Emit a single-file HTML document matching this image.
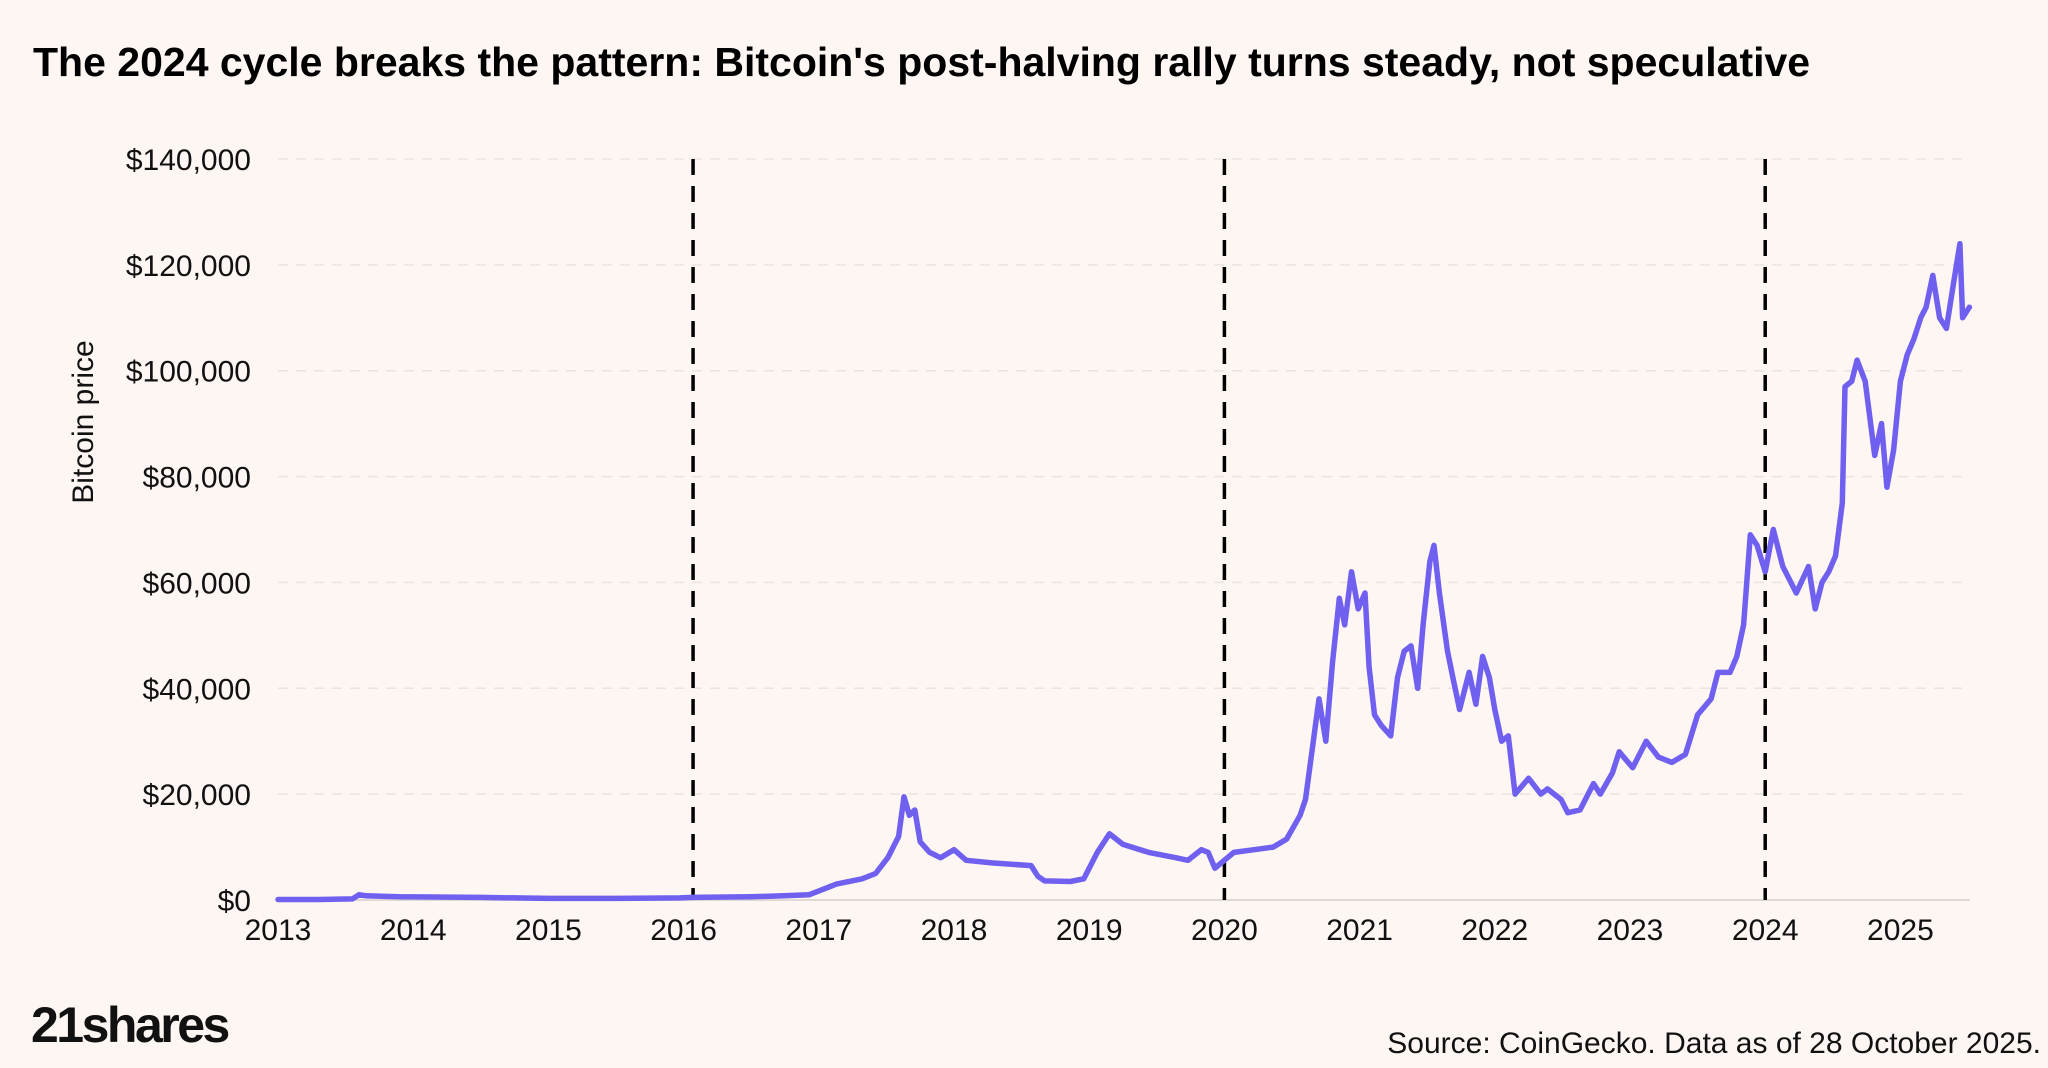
<!DOCTYPE html>
<html><head><meta charset="utf-8"><style>
html,body{margin:0;padding:0;background:#fdf6f3;}
svg{display:block;font-family:"Liberation Sans",sans-serif;}
</style></head><body>
<svg id="chart" width="2048" height="1068" viewBox="0 0 2048 1068">
<rect width="2048" height="1068" fill="#fdf6f3"/>
<text x="33" y="76" font-size="41" font-weight="bold" fill="#000">The 2024 cycle breaks the pattern: Bitcoin's post-halving rally turns steady, not speculative</text>
<text transform="translate(93,422) rotate(-90)" text-anchor="middle" font-size="30" fill="#111">Bitcoin price</text>
<g id="grid"></g><g id="yticks"></g><g id="xticks"></g><g id="halvings"></g><g id="series"></g>
<text x="31" y="1042" font-size="50" font-weight="bold" fill="#111" letter-spacing="-2.5">21shares</text>
<text x="2041" y="1053" text-anchor="end" font-size="30" fill="#111">Source: CoinGecko. Data as of 28 October 2025.</text>
</svg>
<script>
const yTicks=[0,20000,40000,60000,80000,100000,120000,140000];
const xTickYears=[2013,2014,2015,2016,2017,2018,2019,2020,2021,2022,2023,2024,2025];
const halvingYears=[2016.07,2020.0,2024.0];
const dates=[0,0.3,0.55,0.6,0.65,0.9,1.5,2.0,2.5,2.97,3.07,3.5,3.74,3.93,4.13,4.32,4.42,4.51,4.59,4.63,4.67,4.71,4.75,4.82,4.90,5.00,5.09,5.29,5.57,5.62,5.67,5.86,5.96,6.06,6.15,6.25,6.44,6.64,6.73,6.83,6.88,6.93,7.00,7.07,7.22,7.36,7.46,7.56,7.60,7.70,7.75,7.80,7.85,7.89,7.94,7.99,8.04,8.07,8.11,8.16,8.23,8.28,8.33,8.38,8.43,8.47,8.52,8.55,8.59,8.65,8.69,8.74,8.81,8.86,8.91,8.96,9.00,9.05,9.10,9.15,9.25,9.34,9.39,9.49,9.54,9.63,9.73,9.78,9.87,9.92,10.02,10.12,10.21,10.31,10.41,10.50,10.60,10.65,10.74,10.79,10.84,10.89,10.94,11.00,11.06,11.13,11.23,11.32,11.37,11.42,11.47,11.52,11.57,11.59,11.64,11.68,11.74,11.81,11.86,11.90,11.95,12.00,12.05,12.10,12.15,12.19,12.24,12.29,12.34,12.39,12.44,12.46,12.51];
const pricesK=[0.1,0.1,0.2,1.0,0.8,0.6,0.5,0.3,0.3,0.4,0.5,0.6,0.8,1.0,3.0,4.0,5,8,12,19.5,16,17,11,9,8,9.5,7.5,7,6.5,4.5,3.6,3.5,4,9,12.5,10.5,9,8,7.5,9.5,9,6,7.5,9,9.5,10,11.5,16,19,38,30,45,57,52,62,55,58,44,35,33,31,42,47,48,40,52,64,67,58,47,42,36,43,37,46,42,36,30,31,20,23,20,21,19,16.5,17,22,20,24,28,25,30,27,26,27.5,35,38,43,43,46,52,69,67,62,70,63,58,63,55,60,62,65,75,97,98,102,98,84,90,78,85,98,103,106,110,112,118,110,108,116,124,110,112];
const NS='http://www.w3.org/2000/svg';
const X0=278,PX=135.2,Y0=900,YMAX=159,LEFT=278,RIGHT=1970;
const xs=yr=>X0+(yr-2013)*PX;
const ys=v=>Y0-(v/140000)*(Y0-YMAX);
function mk(tag,attrs,parent){const e=document.createElementNS(NS,tag);for(const k in attrs)e.setAttribute(k,attrs[k]);document.getElementById(parent).appendChild(e);return e;}
yTicks.forEach(v=>{
 const l=mk('line',{x1:LEFT,x2:RIGHT,y1:ys(v),y2:ys(v),stroke:v===0?'#e0d8d5':'#ece3e0','stroke-width':v===0?2:1.5,'stroke-dasharray':v===0?'none':'10 8'},'grid');
 
 
 const t=mk('text',{x:251,y:ys(v)+11,'text-anchor':'end','font-size':30,fill:'#111'},'yticks');
 t.textContent='$'+v.toLocaleString('en-US');
 
 
});
xTickYears.forEach(y=>{
 const t=mk('text',{x:xs(y),y:940,'text-anchor':'middle','font-size':30,fill:'#111'},'xticks');
 t.textContent=String(y);
 
 
});
halvingYears.forEach(y=>{
 const l=mk('line',{x1:xs(y),x2:xs(y),y1:YMAX,y2:Y0,stroke:'#000','stroke-width':3.5,'stroke-dasharray':'16 11'},'halvings');
 
 
});
const d=dates.map((t,i)=>(i?'L':'M')+xs(2013+t).toFixed(1)+','+ys(pricesK[i]*1000).toFixed(1)).join('');
const p=mk('path',{d:d,fill:'none',stroke:'#7060f0','stroke-width':5.5,'stroke-linejoin':'round','stroke-linecap':'round'},'series');


</script>
</body></html>
